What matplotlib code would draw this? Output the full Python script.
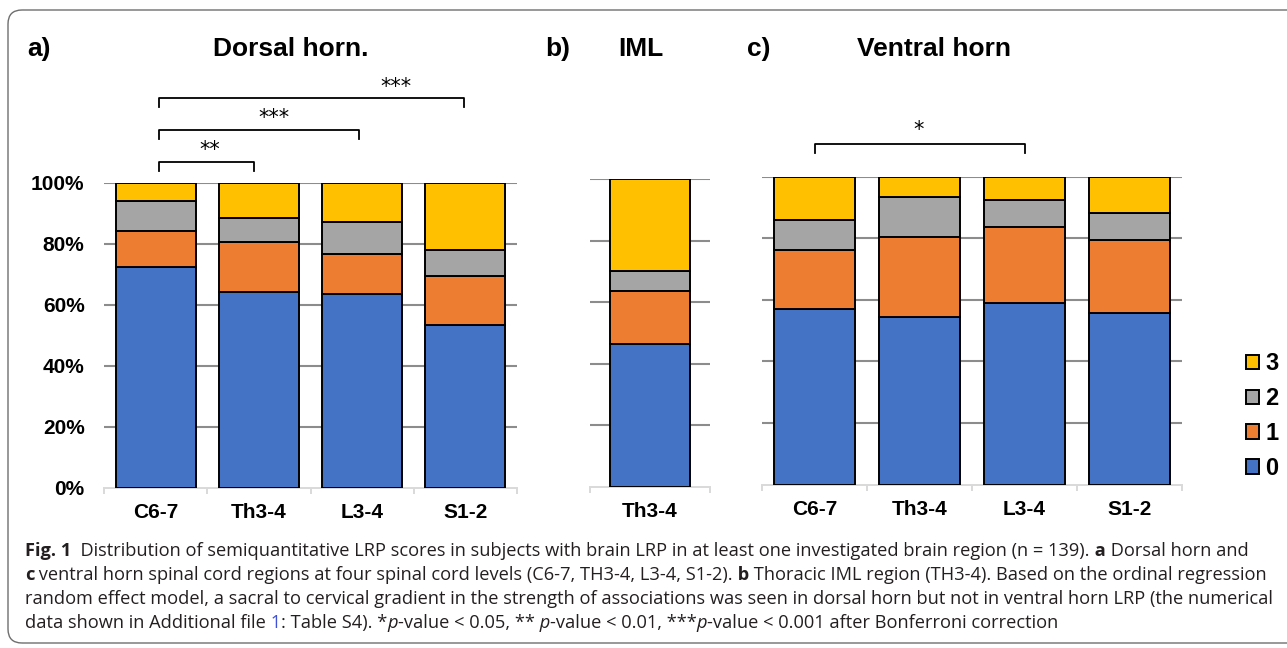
import numpy as np
import matplotlib.pyplot as plt
from matplotlib.patches import FancyBboxPatch, Patch
from matplotlib.transforms import IdentityTransform

W, H = 1287, 648

levels = ['C6-7', 'Th3-4', 'L3-4', 'S1-2']
iml_levels = ['Th3-4']
scores = ['0', '1', '2', '3']
colors = ['#4472C4', '#ED7D31', '#A5A5A5', '#FFC000']

# % of subjects per LRP score (rows = score 0..3, cols = level)
dorsal = [[72.3, 64.3, 63.4, 53.2],
          [12.0, 16.1, 13.2, 16.3],
          [9.8, 8.1, 10.4, 8.3],
          [5.9, 11.5, 13.0, 22.2]]
iml = [[46.3], [17.3], [6.6], [29.8]]
ventral = [[57.1, 54.3, 59.0, 55.8],
           [19.1, 26.1, 24.7, 23.6],
           [9.6, 13.0, 8.8, 8.7],
           [14.2, 6.6, 7.5, 11.9]]

yticks = [0, 20, 40, 60, 80, 100]
ytick_labels = ['0%', '20%', '40%', '60%', '80%', '100%']

# significance brackets: (from, to, bracket height, label, label x, label y)
dorsal_sig = [(0.03, 0.95, 106.7, '**', 0.52, 110.6),
              (0.03, 1.97, 117.3, '***', 1.15, 121.2),
              (0.03, 2.99, 127.7, '***', 2.33, 131.4)]
ventral_sig = [(0.0, 2.0, 110.6, '*', 0.995, 115.3)]

plt.rcParams['font.family'] = ['Liberation Sans', 'DejaVu Sans']

fig = plt.figure(figsize=(W / 100, H / 100), dpi=100)


def axes_px(left, top, right, bottom):
    return fig.add_axes([left / W, 1 - bottom / H, (right - left) / W, (bottom - top) / H])


def draw_panel(ax, labels, data, width, show_y):
    n = len(labels)
    x = np.arange(n)
    bottom = np.zeros(n)
    for k in range(len(data)):
        ax.bar(x, data[k], width, bottom=bottom, color=colors[k],
               edgecolor='black', linewidth=1.4, zorder=3, label=scores[k])
        bottom += np.array(data[k])
    ax.set_xlim(-0.5, n - 0.5)
    ax.set_ylim(0, 100)
    for yv in yticks[1:]:
        ax.axhline(yv, color='#8C8C8C', lw=1.5, zorder=1)
    for s in ['top', 'right', 'left']:
        ax.spines[s].set_visible(False)
    ax.spines['bottom'].set_color('#D9D9D9')
    ax.spines['bottom'].set_linewidth(1.4)
    ax.set_yticks(yticks)
    if show_y:
        ax.set_yticklabels(ytick_labels, fontsize=15, fontweight='bold')
    else:
        ax.set_yticklabels([])
    ax.tick_params(axis='y', length=0, pad=14)
    ax.set_xticks(x)
    ax.set_xticklabels(labels, fontsize=15, fontweight='bold')
    ax.tick_params(axis='x', which='major', length=0, pad=11)
    ax.set_xticks(np.arange(n + 1) - 0.5, minor=True)
    ax.tick_params(axis='x', which='minor', length=4.5, width=1.4, color='#D9D9D9')


def draw_sig(ax, sig):
    for x1, x2, h, lab, tx, ty in sig:
        ax.plot([x1, x1, x2, x2], [h - 3, h, h, h - 3], color='black', lw=1.3,
                clip_on=False, zorder=4)
        ax.text(tx, ty, lab, ha='center', va='center', fontsize=15,
                fontfamily='DejaVu Sans', clip_on=False)


ax_a = axes_px(104, 182.7, 517, 487.7)
ax_b = axes_px(590, 179, 710, 487)
ax_c = axes_px(762, 176.7, 1182, 484.7)

draw_panel(ax_a, levels, dorsal, 0.775, True)
draw_panel(ax_b, iml_levels, iml, 0.667, False)
draw_panel(ax_c, levels, ventral, 0.77, False)
draw_sig(ax_a, dorsal_sig)
draw_sig(ax_c, ventral_sig)

# panel titles
title_kw = dict(fontsize=19, fontweight='bold', va='baseline')
fig.text(27 / W, 1 - 56 / H, 'a)', **title_kw)
fig.text(291 / W, 1 - 56 / H, 'Dorsal horn.', ha='center', **title_kw)
fig.text(545 / W, 1 - 56 / H, 'b)', **title_kw)
fig.text(618 / W, 1 - 56 / H, 'IML', **title_kw)
fig.text(747 / W, 1 - 56 / H, 'c)', **title_kw)
fig.text(857 / W, 1 - 56 / H, 'Ventral horn', **title_kw)

# legend, score 3 on top
handles = [Patch(facecolor=colors[k], edgecolor='black', linewidth=1.4) for k in range(3, -1, -1)]
fig.legend(handles, scores[::-1], loc='center left', bbox_to_anchor=(1246 / W, 1 - 416 / H),
           frameon=False, prop={'weight': 'bold', 'size': 17}, handlelength=0.56,
           handleheight=0.56, handletextpad=0.25, labelspacing=0.5, borderpad=0,
           borderaxespad=0)

# rounded frame
frame = FancyBboxPatch((8, 5), 1300, 633, boxstyle='round,pad=0,rounding_size=14',
                       transform=IdentityTransform(), facecolor='none',
                       edgecolor='#6E6E6E', linewidth=1.0)
fig.add_artist(frame)

# caption
cap_font = 'Open Sans'
txt = '#231F20'
reg = dict(color=txt)
bold = dict(color=txt, fontweight='bold')
ital = dict(color=txt, fontstyle='italic')
caption = [
    [('Fig. 1', bold),
     ('  Distribution of semiquantitative LRP scores in subjects with brain LRP in at least one '
      'investigated brain region (n = 139).', reg),
     (' a', bold), (' Dorsal horn and', reg)],
    [('c', bold),
     (' ventral horn spinal cord regions at four spinal cord levels (C6-7, TH3-4, L3-4, S1-2).', reg),
     (' b', bold), (' Thoracic IML region (TH3-4). Based on the ordinal regression', reg)],
    [('random effect model, a sacral to cervical gradient in the strength of associations was seen '
      'in dorsal horn but not in ventral horn LRP (the numerical', reg)],
    [('data shown in Additional file', reg), (' 1', dict(color='#3F51D6')),
     (': Table S4). *', reg), ('p', ital), ('-value < 0.05, **', reg), (' p', ital),
     ('-value < 0.01, ***', reg), ('p', ital), ('-value < 0.001 after Bonferroni correction', reg)],
]
cap_base = [556, 580, 604, 628]

renderer = fig.canvas.get_renderer()


def seg_width(segs, size):
    total = 0
    for s, st in segs:
        t = fig.text(0, 0, s, fontsize=size, fontfamily=cap_font, **st)
        total += t.get_window_extent(renderer).width
        t.remove()
    return total


widest = max(seg_width(segs, 12) for segs in caption)
size = 12 * 1242 / widest
for segs, yb in zip(caption, cap_base):
    x = 25
    for s, st in segs:
        t = fig.text(x / W, 1 - yb / H, s, fontsize=size, fontfamily=cap_font,
                     va='baseline', **st)
        x += t.get_window_extent(renderer).width

fig.savefig('out.png', dpi=100)
